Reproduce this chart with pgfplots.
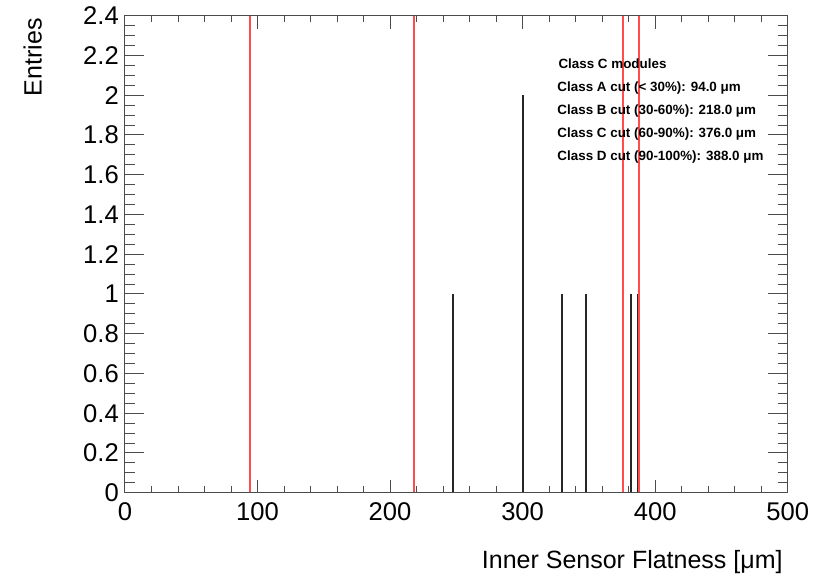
\documentclass[border=0pt]{standalone}
\usepackage{fontspec}
\setmainfont{Liberation Sans}
\usepackage{pgfplots}
\pgfplotsset{compat=1.18}
\definecolor{cutred}{rgb}{1,0.3,0.3}
\definecolor{axgray}{gray}{0.3}
\begin{document}
\begin{tikzpicture}
\pgfplotsset{
  commonax/.style={
    scale only axis, width=331.35pt, height=238.5pt,
    at={(62.5pt,41.15pt)}, anchor=south west,
    xmin=0, xmax=500, ymin=0, ymax=2.4,
    axis line style={axgray, line width=0.5pt},
    tick style={axgray, line width=0.5pt},
    tick align=inside, tick pos=both,
    xtick={0,100,200,300,400,500},
    ytick={0,0.2,0.4,0.6,0.8,1,1.2,1.4,1.6,1.8,2,2.2,2.4},
    minor x tick num=4, minor y tick num=3,
    /pgf/number format/assume math mode=true,
  }
}
\begin{axis}[commonax,
  major tick length=6.5pt, minor tick length=3.25pt,
  xticklabel style={font=\fontsize{12.8}{15}\selectfont, inner sep=0pt, anchor=north, yshift=-4.8pt},
  yticklabel style={font=\fontsize{12.8}{15}\selectfont, inner sep=0pt, anchor=east, xshift=-2.9pt},
  xlabel={Inner Sensor Flatness [μm]},
  xlabel style={at={(rel axis cs:1,0)}, anchor=base east, inner sep=0pt, yshift=-37.8pt, xshift=-2.35pt, font=\fontsize{12.5}{15}\selectfont},
  ylabel={Entries},
  every axis y label/.style={at={([xshift=-41.65pt,yshift=-1.15pt]rel axis cs:0,1)}, rotate=90, anchor=base east, inner sep=0pt, font=\fontsize{12.5}{15}\selectfont},
]
% cut lines (drawn as thin filled strips)
\addplot[fill=cutred, draw=none, mark=none] coordinates {(93.25,0) (94.75,0) (94.75,2.4) (93.25,2.4)} -- cycle;
\addplot[fill=cutred, draw=none, mark=none] coordinates {(217.25,0) (218.75,0) (218.75,2.4) (217.25,2.4)} -- cycle;
\addplot[fill=cutred, draw=none, mark=none] coordinates {(375.25,0) (376.75,0) (376.75,2.4) (375.25,2.4)} -- cycle;
\addplot[fill=cutred, draw=none, mark=none] coordinates {(387.25,0) (388.75,0) (388.75,2.4) (387.25,2.4)} -- cycle;
% histogram entries
\addplot[ycomb, draw=black!85, line width=0.8pt, mark=none] coordinates {
  (247.5,1) (300.5,2) (329.5,1) (348,1) (382,1) (386.6,1)
};
\begin{scope}[every node/.style={anchor=west, inner sep=0pt, font=\fontsize{6.7}{8}\selectfont\bfseries}]
\node at (axis cs:326.8,2.160) {Class C modules};
\node at (axis cs:326,2.038) {Class A cut (< 30\%): 94.0 μm};
\node at (axis cs:326,1.921) {Class B cut (30-60\%): 218.0 μm};
\node at (axis cs:326,1.803) {Class C cut (60-90\%): 376.0 μm};
\node at (axis cs:326,1.691) {Class D cut (90-100\%): 388.0 μm};
\end{scope}
\end{axis}
\begin{axis}[commonax,
  major tick length=9.7pt, minor tick length=5pt,
  xtick=\empty, yticklabels={},
]
\end{axis}
\pgfresetboundingbox
\path[use as bounding box] (0,0) rectangle (413.5pt,287.5pt);
\end{tikzpicture}
\end{document}
